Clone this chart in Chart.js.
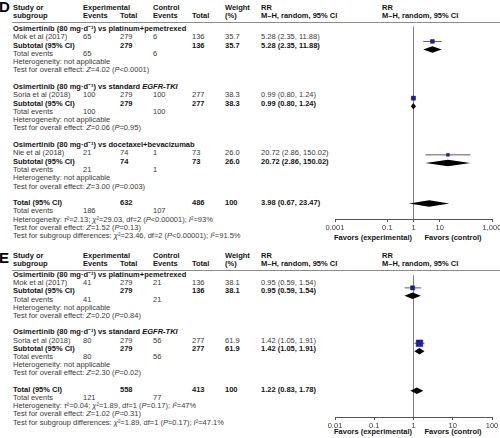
<!DOCTYPE html>
<html>
<head>
<meta charset="utf-8">
<script src="https://cdn.jsdelivr.net/npm/chart.js@4.4.1/dist/chart.umd.min.js"></script>
<style>
    html, body { margin: 0; padding: 0; background: #fff; }
    #page {
        position: relative; width: 500px; height: 438px; overflow: hidden;
        font-family: "Liberation Sans", Arial, sans-serif; font-size: 7.5px; color: #3a3a3a;
    }
    .t { position: absolute; white-space: nowrap; line-height: 8px; }
    .b { font-weight: bold; color: #141414; }
    .c { transform: translateX(-50%); }
    .letter { position: absolute; font-weight: bold; font-size: 15px; line-height: 15px; color: #000; }
    .rule { position: absolute; height: 1px; background: #8c8c8c; }
    canvas { position: absolute; }
</style>
</head>
<body>
<div id="page"></div>
<script>
// ---- panel D ----
const dHeadings = [
    'Osimertinib (80 mg·d⁻¹) vs platinum+pemetrexed',
    'Osimertinib (80 mg·d⁻¹) vs standard <i>EGFR-TKI</i>',
    'Osimertinib (80 mg·d⁻¹) vs docetaxel+bevacizumab'
];
const dStudies = ['Mok et al (2017)', 'Soria et al (2018)', 'Nie et al (2018)'];
const dExpEvents = [65, 100, 21];
const dExpTotal = [279, 279, 74];
const dCtlEvents = [6, 100, 1];
const dCtlTotal = [136, 277, 73];
const dWeight = [35.7, 38.3, 26.0];
const dRR = [5.28, 0.99, 20.72];
const dLow = [2.35, 0.80, 2.86];
const dHigh = [11.88, 1.24, 150.02];
const dOverall = ['<i>Z</i>=4.02 (<i>P</i>&lt;0.0001)', '<i>Z</i>=0.06 (<i>P</i>=0.95)', '<i>Z</i>=3.00 (<i>P</i>=0.003)'];
const dTotalN = [632, 486];
const dTotalEvents = [186, 107];
const dTotalRR = [3.98, 0.67, 23.47];
const dHet = 'Heterogeneity: <i>τ</i>²=2.13; <i>χ</i>²=29.03, df=2 (<i>P</i>&lt;0.00001); <i>I</i>²=93%';
const dTotalOverall = 'Test for overall effect: <i>Z</i>=1.52 (<i>P</i>=0.13)';
const dSubgroup = 'Test for subgroup differences: <i>χ</i>²=23.46, df=2 (<i>P</i>&lt;0.00001); <i>I</i>²=91.5%';
const dTicks = [0.001, 0.1, 1, 10, 1000];
const dTickLabels = ['0.001', '0.1', '1', '10', '1,000'];

// ---- panel E ----
const eHeadings = [
    'Osimertinib (80 mg·d⁻¹) vs platinum+pemetrexed',
    'Osimertinib (80 mg·d⁻¹) vs standard <i>EGFR-TKI</i>'
];
const eStudies = ['Mok et al (2017)', 'Soria et al (2018)'];
const eExpEvents = [41, 80];
const eExpTotal = [279, 279];
const eCtlEvents = [21, 56];
const eCtlTotal = [136, 277];
const eWeight = [38.1, 61.9];
const eRR = [0.95, 1.42];
const eLow = [0.59, 1.05];
const eHigh = [1.54, 1.91];
const eOverall = ['<i>Z</i>=0.20 (<i>P</i>=0.84)', '<i>Z</i>=2.30 (<i>P</i>=0.02)'];
const eTotalN = [558, 413];
const eTotalEvents = [121, 77];
const eTotalRR = [1.22, 0.83, 1.78];
const eHet = 'Heterogeneity: <i>τ</i>²=0.04; <i>χ</i>²=1.89, df=1 (<i>P</i>=0.17); <i>I</i>²=47%';
const eTotalOverall = 'Test for overall effect: <i>Z</i>=1.02 (<i>P</i>=0.31)';
const eSubgroup = 'Test for subgroup differences: <i>χ</i>²=1.89, df=1 (<i>P</i>=0.17); <i>I</i>²=47.1%';
const eTicks = [0.01, 0.1, 1, 10, 100];
const eTickLabels = ['0.01', '0.1', '1', '10', '100'];

const FONT_SIZE = 7.5;
const COL = { study: 13, expEv: 83, expTot: 120, ctlEv: 153, ctlTot: 192, weight: 225, rr: 261, plot: 382 };
const PLOT_LEFT = 335, PLOT_RIGHT = 492;

const page = document.getElementById('page');

function addText(x, y, html, cls) {
    const el = document.createElement('div');
    el.className = 't ' + (cls || '');
    el.style.left = x + 'px';
    el.style.top = (y - 4) + 'px';
    el.innerHTML = html;
    page.appendChild(el);
}

function fmt(rr, lo, hi) {
    return rr.toFixed(2) + ' (' + lo.toFixed(2) + ', ' + hi.toFixed(2) + ')';
}

function diamondPlugin(diamonds) {
    return {
        id: 'diamonds',
        afterDatasetsDraw(chart) {
            const xs = chart.scales.x, ys = chart.scales.y, ctx = chart.ctx;
            ctx.save();
            ctx.fillStyle = '#000';
            diamonds.forEach(([est, lo, hi, row]) => {
                const y = ys.getPixelForValue(row);
                const h = 3.2;
                ctx.beginPath();
                ctx.moveTo(xs.getPixelForValue(lo), y);
                ctx.lineTo(xs.getPixelForValue(est), y - h);
                ctx.lineTo(xs.getPixelForValue(hi), y);
                ctx.lineTo(xs.getPixelForValue(est), y + h);
                ctx.closePath();
                ctx.fill();
            });
            ctx.restore();
        }
    };
}

function buildPanel(p) {
    const rowY = r => p.row0 + r * p.pitch;

    const letter = document.createElement('div');
    letter.className = 'letter';
    letter.style.left = '-1px';
    letter.style.top = p.letterY + 'px';
    letter.textContent = p.letter;
    page.appendChild(letter);

    // header
    addText(COL.study, p.headY, 'Study or', 'b');
    addText(COL.study, p.headY + 8, 'subgroup', 'b');
    addText(COL.expEv, p.headY, 'Experimental', 'b');
    addText(COL.expEv, p.headY + 8, 'Events', 'b');
    addText(COL.expTot, p.headY + 8, 'Total', 'b');
    addText(COL.ctlEv, p.headY, 'Control', 'b');
    addText(COL.ctlEv, p.headY + 8, 'Events', 'b');
    addText(COL.ctlTot, p.headY + 8, 'Total', 'b');
    addText(COL.weight, p.headY, 'Weight', 'b');
    addText(COL.weight, p.headY + 8, '(%)', 'b');
    addText(COL.rr, p.headY, 'RR', 'b');
    addText(COL.rr, p.headY + 8, 'M–H, random, 95% CI', 'b');
    addText(COL.plot, p.headY, 'RR', 'b');
    addText(COL.plot, p.headY + 8, 'M–H, random, 95% CI', 'b');

    const rule = document.createElement('div');
    rule.className = 'rule';
    rule.style.left = '12px';
    rule.style.top = p.ruleY + 'px';
    rule.style.width = '488px';
    page.appendChild(rule);

    const diamonds = [];
    p.studies.forEach((s, i) => {
        const r0 = i * 7;
        addText(COL.study, rowY(r0), p.headings[i], 'b');

        addText(COL.study, rowY(r0 + 1), s);
        addText(COL.expEv, rowY(r0 + 1), p.expEvents[i]);
        addText(COL.expTot, rowY(r0 + 1), p.expTotal[i]);
        addText(COL.ctlEv, rowY(r0 + 1), p.ctlEvents[i]);
        addText(COL.ctlTot, rowY(r0 + 1), p.ctlTotal[i]);
        addText(COL.weight, rowY(r0 + 1), p.weight[i].toFixed(1));
        addText(COL.rr, rowY(r0 + 1), fmt(p.rr[i], p.low[i], p.high[i]));

        addText(COL.study, rowY(r0 + 2), 'Subtotal (95% CI)', 'b');
        addText(COL.expTot, rowY(r0 + 2), p.expTotal[i], 'b');
        addText(COL.ctlTot, rowY(r0 + 2), p.ctlTotal[i], 'b');
        addText(COL.weight, rowY(r0 + 2), p.weight[i].toFixed(1), 'b');
        addText(COL.rr, rowY(r0 + 2), fmt(p.rr[i], p.low[i], p.high[i]), 'b');

        addText(COL.study, rowY(r0 + 3), 'Total events');
        addText(COL.expEv, rowY(r0 + 3), p.expEvents[i]);
        addText(COL.ctlEv, rowY(r0 + 3), p.ctlEvents[i]);
        addText(COL.study, rowY(r0 + 4), 'Heterogeneity: not applicable');
        addText(COL.study, rowY(r0 + 5), 'Test for overall effect: ' + p.overall[i]);

        diamonds.push([p.rr[i], p.low[i], p.high[i], r0 + 2]);
    });

    const rt = p.studies.length * 7;
    addText(COL.study, rowY(rt), 'Total (95% CI)', 'b');
    addText(COL.expTot, rowY(rt), p.totalN[0], 'b');
    addText(COL.ctlTot, rowY(rt), p.totalN[1], 'b');
    addText(COL.weight, rowY(rt), '100', 'b');
    addText(COL.rr, rowY(rt), fmt(p.totalRR[0], p.totalRR[1], p.totalRR[2]), 'b');
    addText(COL.study, rowY(rt + 1), 'Total events');
    addText(COL.expEv, rowY(rt + 1), p.totalEvents[0]);
    addText(COL.ctlEv, rowY(rt + 1), p.totalEvents[1]);
    addText(COL.study, rowY(rt + 2), p.het);
    addText(COL.study, rowY(rt + 3), p.totalOverall);
    addText(COL.study, rowY(rt + 4), p.subgroup);
    diamonds.push([p.totalRR[0], p.totalRR[1], p.totalRR[2], rt]);

    addText(373, p.favorsY, 'Favors (experimental)', 'b c');
    addText(453, p.favorsY, 'Favors (control)', 'b c');

    // forest plot
    const padL = 30, padR = 13, axisH = 12;
    const canvas = document.createElement('canvas');
    const w = PLOT_RIGHT - PLOT_LEFT + padL + padR;
    const h = p.axisY - p.ruleY + axisH;
    canvas.width = w; canvas.height = h;
    canvas.style.width = w + 'px'; canvas.style.height = h + 'px';
    canvas.style.left = (PLOT_LEFT - padL) + 'px';
    canvas.style.top = p.ruleY + 'px';
    page.appendChild(canvas);

    const whiskers = p.studies.map((s, i) => ({
        data: [{ x: p.low[i], y: i * 7 + 1 }, { x: p.high[i], y: i * 7 + 1 }],
        showLine: true,
        borderColor: '#333',
        borderWidth: 0.8,
        pointRadius: 0,
        order: 1
    }));
    const squares = {
        data: p.rr.map((v, i) => ({ x: v, y: i * 7 + 1 })),
        pointStyle: 'rect',
        pointRadius: p.weight.map(wt => wt * 0.075),
        backgroundColor: '#1c1cb8',
        borderColor: '#0c0c66',
        borderWidth: 0.5,
        order: 0
    };

    new Chart(canvas, {
        type: 'scatter',
        data: { datasets: [squares, ...whiskers] },
        options: {
            animation: false,
            responsive: false,
            layout: { padding: { left: padL, right: padR, top: 0, bottom: 0 } },
            plugins: { legend: { display: false }, tooltip: { enabled: false } },
            scales: {
                x: {
                    type: 'logarithmic',
                    min: p.ticks[0],
                    max: p.ticks[p.ticks.length - 1],
                    afterBuildTicks: scale => { scale.ticks = p.ticks.map(v => ({ value: v })); },
                    afterFit: scale => { scale.height = axisH; },
                    ticks: {
                        autoSkip: false,
                        maxRotation: 0,
                        padding: 1,
                        color: '#3a3a3a',
                        font: { family: '"Liberation Sans", Arial, sans-serif', size: FONT_SIZE },
                        callback: v => p.tickLabels[p.ticks.indexOf(v)]
                    },
                    grid: {
                        color: ctx => (ctx.tick && ctx.tick.value === 1 ? '#808080' : 'rgba(0,0,0,0)'),
                        tickColor: '#555',
                        tickLength: 3,
                        lineWidth: 1
                    },
                    border: { color: '#555', width: 1 }
                },
                y: {
                    type: 'linear',
                    display: false,
                    reverse: true,
                    min: (p.ruleY - p.row0) / p.pitch,
                    max: (p.axisY - p.row0) / p.pitch
                }
            }
        },
        plugins: [diamondPlugin(diamonds)]
    });
}

buildPanel({
    letter: 'D', letterY: -1, headY: 8, ruleY: 22, row0: 29, pitch: 8.29, axisY: 219, favorsY: 238,
    headings: dHeadings, studies: dStudies,
    expEvents: dExpEvents, expTotal: dExpTotal, ctlEvents: dCtlEvents, ctlTotal: dCtlTotal,
    weight: dWeight, rr: dRR, low: dLow, high: dHigh, overall: dOverall,
    totalN: dTotalN, totalEvents: dTotalEvents, totalRR: dTotalRR,
    het: dHet, totalOverall: dTotalOverall, subgroup: dSubgroup,
    ticks: dTicks, tickLabels: dTickLabels
});

buildPanel({
    letter: 'E', letterY: 250, headY: 256, ruleY: 270, row0: 275, pitch: 8.2, axisY: 417, favorsY: 432,
    headings: eHeadings, studies: eStudies,
    expEvents: eExpEvents, expTotal: eExpTotal, ctlEvents: eCtlEvents, ctlTotal: eCtlTotal,
    weight: eWeight, rr: eRR, low: eLow, high: eHigh, overall: eOverall,
    totalN: eTotalN, totalEvents: eTotalEvents, totalRR: eTotalRR,
    het: eHet, totalOverall: eTotalOverall, subgroup: eSubgroup,
    ticks: eTicks, tickLabels: eTickLabels
});
</script>
</body>
</html>
